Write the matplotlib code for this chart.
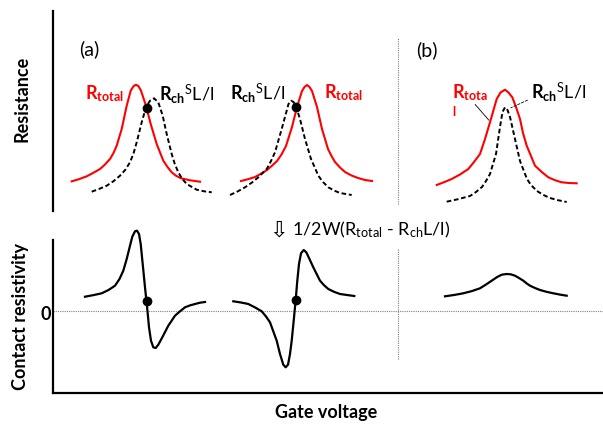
import matplotlib
matplotlib.use('Agg')
import matplotlib.pyplot as plt

plt.rcParams['font.family'] = ['Lato', 'DejaVu Sans']
plt.rcParams['mathtext.fontset'] = 'custom'
plt.rcParams['mathtext.rm'] = 'Lato'
plt.rcParams['mathtext.bf'] = 'Lato:bold'
plt.rcParams['mathtext.it'] = 'Lato:italic'

# ---- (a) left pair: total resistance and scaled channel resistance ----
v_tot1 = [18.7, 26, 33.7, 40, 47, 52, 57, 60.5, 63.7, 68.7, 73.7, 77.7, 80.5, 83, 85.5, 88, 93, 97.7, 103.7, 110.3, 114.5, 118.7, 123, 128, 137, 147]
r_tot1 = [29.7, 31.8, 34.7, 38, 42, 46.5, 52, 58, 65.3, 82, 105.3, 120.3, 124.8, 126.3, 124.8, 120.3, 105.3, 87, 67, 50.3, 44, 38.7, 35.3, 32.7, 30.7, 29.3]
v_ch1 = [38.7, 46, 53.7, 60.5, 67, 72.3, 77, 80.5, 83.7, 88.7, 93, 97, 101, 105.3, 109.7, 113.7, 118.7, 121.8, 125.3, 129.3, 133.7, 143.7, 151, 158.7]
r_ch1 = [19.3, 22, 25.3, 29.8, 35.3, 41.2, 48.7, 57.5, 68.7, 88.7, 103.7, 110.3, 112.7, 108.7, 95.3, 77, 57, 47, 38.7, 32, 27, 21.3, 19.7, 18.7]

# ---- (a) right pair ----
v_tot2 = [188, 195, 202, 208, 214, 219, 224, 228.5, 233, 239, 244, 249, 251.5, 254, 256.5, 259, 264, 269, 275, 278.5, 282, 287, 292, 298.5, 305, 312, 319]
r_tot2 = [30, 31.8, 34, 37.3, 41, 45.3, 50, 56.5, 65, 84, 104, 120, 124, 126, 124, 120, 104, 82, 62, 55, 49, 43.5, 39, 35.5, 33, 31, 30]
v_ch2 = [177, 184.5, 192, 199, 205.3, 213.7, 218, 222, 228.7, 233.7, 235.5, 238, 240.5, 242.7, 247, 252, 258, 262, 265.3, 270, 275.3, 281, 287, 298.7]
r_ch2 = [16, 19.5, 23.7, 28.5, 33.7, 42, 50, 58.7, 82, 100.3, 107, 110.3, 109, 105.3, 92, 72, 52, 43, 35.3, 29, 23.7, 20.5, 18, 16]

# ---- (b) ----
v_tot3 = [383.7, 391, 398.7, 407, 415.3, 421, 427, 432, 437, 443.7, 447.5, 452, 455.5, 459.3, 463, 467, 470, 473.7, 482, 489, 495.3, 502, 508.7, 516, 523.7]
r_tot3 = [26, 28.8, 32, 36.5, 42, 49, 57, 72, 88.7, 112, 118.5, 121.3, 118.5, 113.7, 104, 92, 78, 65.3, 45.3, 38.8, 33.7, 30.8, 28.7, 28, 27.7]
v_ch3 = [393.7, 405, 417, 423, 429, 433, 437, 443, 447, 449.5, 452, 454.5, 457, 462, 467, 474, 478, 484, 490, 497, 505, 513.7]
r_ch3 = [9.3, 11.8, 15, 19, 24, 30, 37, 57, 84, 99, 103.7, 101, 94, 72, 50, 32, 26, 20, 16.2, 13, 10.8, 9]

# crossing points
dot_v = [93.7, 243]
dot_r = [103, 104.5]

# ---- contact resistivity ----
v_rc1 = [32, 40, 48.7, 55.5, 62, 66.5, 70.3, 73.7, 77, 79.3, 82, 84, 86, 87.7, 89.7, 92, 94.3, 96, 98, 100.3, 102.7, 105.3, 109.3, 115.3, 122, 127, 132, 137, 142, 147, 152]
rc1 = [14.3, 15.8, 17.7, 21, 25.3, 32, 40.3, 52, 65.3, 74.3, 79.7, 80.3, 77, 67, 47, 23.7, 2, -16.3, -29.7, -36.3, -37, -33.7, -26.3, -14.7, -4.7, -0.3, 3.7, 5.6, 7, 8.3, 9]
v_rc2 = [180.3, 188, 195.3, 202, 208.7, 213, 217, 223.7, 227, 230.3, 232.7, 235, 237, 238.7, 240.7, 242.7, 244.3, 246, 248, 250.7, 253.3, 256, 260.3, 267, 271, 275.3, 281, 287, 294, 301.3]
rc2 = [9.7, 8.5, 7, 3.6, -0.3, -5.5, -11.3, -29.7, -43, -53.7, -56.3, -53.7, -43, -29.7, -9.7, 11.3, 30.3, 47, 57.7, 61, 58.7, 53, 43.7, 30.3, 25.8, 22, 19.2, 17, 16, 15]
v_rc3 = [392, 401, 410.3, 418.5, 427, 431, 435.3, 443.7, 448.7, 453.7, 457.7, 462, 466, 470.3, 473.5, 477, 482, 487, 493.5, 500.3, 507, 513.7]
rc3 = [14.7, 16, 17.7, 19.8, 22.7, 25.2, 28, 33.7, 36.3, 37, 36.7, 35.3, 33, 30.3, 27.7, 25.3, 23, 21, 19.2, 17.7, 16.4, 15.3]
dot_rc_v = [93.5, 242.7]
dot_rc = [10, 11.3]

W, H = 603, 427
fig = plt.figure(figsize=(W / 100, H / 100), dpi=100)

def box(x0, y0, x1, y1):
    return [x0 / W, 1 - y1 / H, (x1 - x0) / W, (y1 - y0) / H]

red = '#ff0000'
dash = (0, (2.4, 1.4))
dot_style = dict(color='#808080', lw=0.8, ls=(0, (1, 1)))

ax1 = fig.add_axes(box(53, 11.7, 603, 212))
ax1.set_xlim(0, 550)
ax1.set_ylim(0, 200.3)
for s in ['top', 'right', 'bottom']:
    ax1.spines[s].set_visible(False)
ax1.spines['left'].set_linewidth(1.6)
ax1.set_xticks([])
ax1.set_yticks([])
ax1.patch.set_alpha(0)

ax1.plot(v_tot1, r_tot1, color=red, lw=1.5)
ax1.plot(v_ch1, r_ch1, color='black', lw=1.4, ls=dash)
ax1.plot(v_tot2, r_tot2, color=red, lw=1.5)
ax1.plot(v_ch2, r_ch2, color='black', lw=1.4, ls=dash)
ax1.plot(v_tot3, r_tot3, color=red, lw=1.5)
ax1.plot(v_ch3, r_ch3, color='black', lw=1.4, ls=dash)
ax1.plot(dot_v, dot_r, 'o', color='black', ms=6, zorder=5)
ax1.plot([345.3, 345.3], [7, 173], **dot_style)

ax1.text(26, 157, '(a)', fontsize=14)
ax1.text(363, 156, '(b)', fontsize=14)
ax1.text(32, 113, r'$\mathbf{R}_{\mathbf{total}}$', color=red, fontsize=13)
ax1.text(106, 112, r'$\mathbf{R}_{\mathbf{ch}}{}^{\mathrm{S}}\mathrm{L/l}$', fontsize=13)
ax1.text(177, 113, r'$\mathbf{R}_{\mathbf{ch}}{}^{\mathrm{S}}\mathrm{L/l}$', fontsize=13)
ax1.text(271, 114, r'$\mathbf{R}_{\mathbf{total}}$', color=red, fontsize=13)
ax1.text(399, 114, r'$\mathbf{R}_{\mathbf{tota}}$', color=red, fontsize=13)
ax1.text(399.5, 95.5, 'l', color=red, fontsize=9, fontweight='bold')
ax1.text(478, 114, r'$\mathbf{R}_{\mathbf{ch}}{}^{\mathrm{S}}\mathrm{L/l}$', fontsize=13)
ax1.annotate('', xy=(437.7, 88.7), xytext=(420.3, 108.7),
             arrowprops=dict(arrowstyle='-', color='black', lw=0.6))
ax1.annotate('', xy=(455.3, 102), xytext=(477, 112),
             arrowprops=dict(arrowstyle='-', color='black', lw=0.6, ls=(0, (3, 2))))

ax2 = fig.add_axes(box(53, 241, 603, 394))
ax2.set_xlim(0, 550)
ax2.set_ylim(-82, 71)
for s in ['top', 'right']:
    ax2.spines[s].set_visible(False)
ax2.spines['left'].set_linewidth(1.6)
ax2.spines['bottom'].set_linewidth(1.6)
ax2.set_xticks([])
ax2.set_yticks([])
ax2.patch.set_alpha(0)

ax2.axhline(0, **dot_style)
ax2.plot([345.3, 345.3], [-48, 62], **dot_style)
ax2.plot(v_rc1, rc1, color='black', lw=1.6, clip_on=False)
ax2.plot(v_rc2, rc2, color='black', lw=1.6, clip_on=False)
ax2.plot(v_rc3, rc3, color='black', lw=1.6, clip_on=False)
ax2.plot(dot_rc_v, dot_rc, 'o', color='black', ms=6, zorder=5)

fig.text(269 / W, 1 - 237 / H, '\u21e9', fontsize=16, family=['DejaVu Sans'], va='baseline')
fig.text(292 / W, 1 - 235 / H, r'1/2W(R$_{\mathrm{total}}$ - R$_{\mathrm{ch}}$L/l)', fontsize=13, va='baseline')

fig.text(22 / W, 1 - 99 / H, 'Resistance', rotation=90, fontsize=13, fontweight='bold', ha='center', va='center')
fig.text(21 / W, 1 - 316 / H, 'Contact resistivity', rotation=90, fontsize=13, fontweight='bold', ha='center', va='center')
fig.text(46 / W, 1 - 314 / H, '0', fontsize=13, fontweight='bold', ha='center', va='center')
fig.text(326 / W, 1 - 413 / H, 'Gate voltage', fontsize=13, fontweight='bold', ha='center', va='center')

fig.savefig('out.png', dpi=100)
